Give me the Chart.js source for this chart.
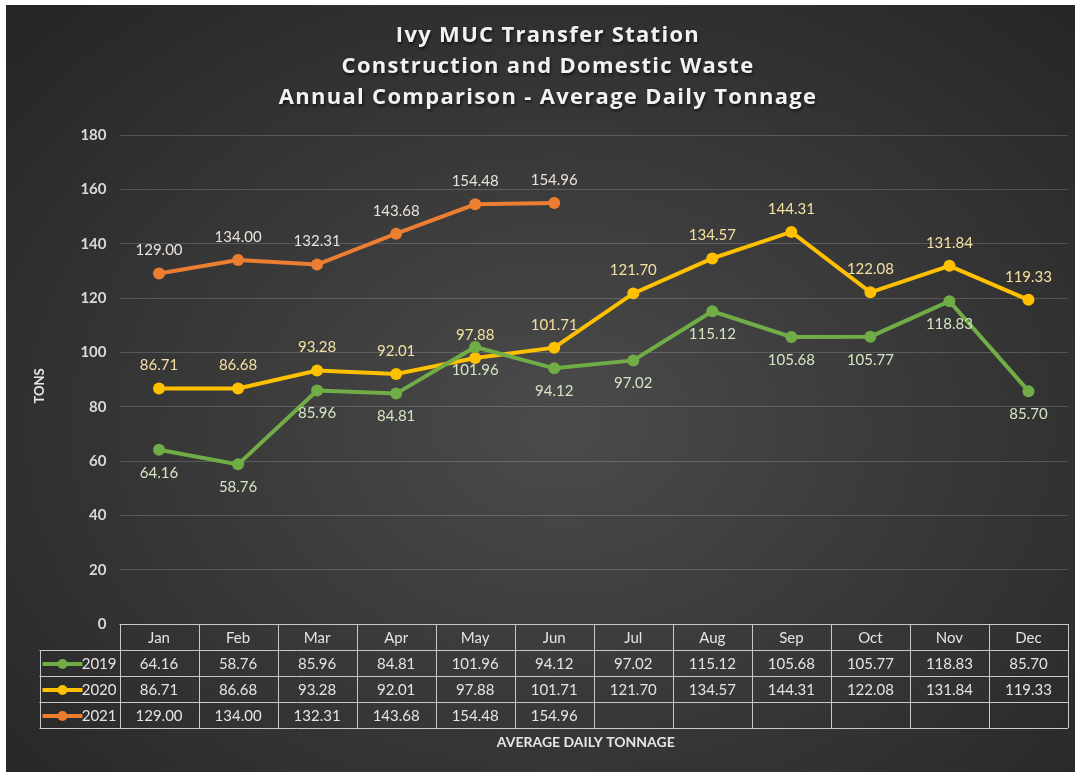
<!DOCTYPE html>
<html>
<head>
<meta charset="utf-8">
<script src="https://cdn.jsdelivr.net/npm/chart.js@4.4.0/dist/chart.umd.min.js"></script>
<style>
  html, body { margin: 0; padding: 0; background: #ffffff; }
  #panel {
    position: absolute; left: 6px; top: 5px; width: 1069px; height: 767px;
    background: radial-gradient(ellipse 70% 75% at 52% 55%, #4b4b4b 0%, #3a3a3a 45%, #262626 100%);
  }
</style>
</head>
<body>
<div id="panel"><canvas id="myChart"></canvas></div>
<script>
// chart values
var months = ['Jan', 'Feb', 'Mar', 'Apr', 'May', 'Jun', 'Jul', 'Aug', 'Sep', 'Oct', 'Nov', 'Dec'];
var years = ['2019', '2020', '2021'];
var tons2019 = [64.16, 58.76, 85.96, 84.81, 101.96, 94.12, 97.02, 115.12, 105.68, 105.77, 118.83, 85.70];
var tons2020 = [86.71, 86.68, 93.28, 92.01, 97.88, 101.71, 121.70, 134.57, 144.31, 122.08, 131.84, 119.33];
var tons2021 = [129.00, 134.00, 132.31, 143.68, 154.48, 154.96, null, null, null, null, null, null];
var titleLines = ['Ivy MUC Transfer Station', 'Construction and Domestic Waste', 'Annual Comparison - Average Daily Tonnage'];

var lineColors = ['#70ad47', '#ffc000', '#ed7d31'];
var labelColors = ['#d4e6c3', '#f4e0a2', '#e9e2dc'];
var labelBelow = [true, false, false];

// title, data labels, table and axis names
var extras = {
  id: 'extras',
  afterDatasetsDraw: function(chart) {
    var ctx = chart.ctx;
    ctx.save();
    ctx.font = '15px Lato';
    ctx.textAlign = 'center';
    ctx.textBaseline = 'middle';
    chart.data.datasets.forEach(function(ds, di) {
      var meta = chart.getDatasetMeta(di);
      meta.data.forEach(function(pt, i) {
        if (ds.data[i] == null) return;
        ctx.fillStyle = labelColors[di];
        var dy = labelBelow[di] ? 23 : -23;
        ctx.fillText(ds.data[i].toFixed(2), pt.x, pt.y + dy);
      });
    });
    ctx.restore();
  },
  afterDraw: function(chart) {
    var ctx = chart.ctx;
    var x = chart.scales.x;
    var area = chart.chartArea;
    var band = x.getPixelForValue(1) - x.getPixelForValue(0);
    var left = area.left, right = area.right;
    var rowH = 26;
    var top = area.bottom;
    var legendW = 80;
    ctx.save();

    // title
    ctx.shadowColor = 'rgba(0,0,0,0.6)';
    ctx.shadowOffsetX = 1;
    ctx.shadowOffsetY = 2;
    ctx.shadowBlur = 3;
    ctx.fillStyle = '#f2f2f2';
    ctx.font = 'bold 22px "Open Sans"';
    ctx.letterSpacing = '1.3px';
    ctx.textAlign = 'center';
    ctx.textBaseline = 'middle';
    titleLines.forEach(function(t, i) {
      ctx.fillText(t, 542, 31 + i * 31);
    });
    ctx.letterSpacing = '0px';
    ctx.shadowColor = 'transparent';

    // y axis name
    ctx.save();
    ctx.translate(34, 381);
    ctx.rotate(-Math.PI / 2);
    ctx.font = 'bold 13px Lato';
    ctx.fillStyle = '#e6e6e6';
    ctx.fillText('TONS', 0, 0);
    ctx.restore();

    // table grid
    ctx.strokeStyle = '#c8c8c8';
    ctx.lineWidth = 1;
    ctx.beginPath();
    for (var r = 0; r <= 4; r++) {
      var yy = Math.round(top + r * rowH) + 0.5;
      ctx.moveTo(r === 0 ? left : left - legendW, yy);
      ctx.lineTo(right, yy);
    }
    for (var c = 0; c <= 12; c++) {
      var xx = Math.round(left + c * band) + 0.5;
      ctx.moveTo(xx, top);
      ctx.lineTo(xx, top + 4 * rowH);
    }
    ctx.moveTo(Math.round(left - legendW) + 0.5, top + rowH);
    ctx.lineTo(Math.round(left - legendW) + 0.5, top + 4 * rowH);
    ctx.stroke();

    // table text
    ctx.font = '15px Lato';
    ctx.fillStyle = '#e4e4e4';
    months.forEach(function(m, i) {
      ctx.fillText(m, x.getPixelForValue(i), top + rowH / 2 + 1);
    });
    chart.data.datasets.forEach(function(ds, di) {
      var cy = top + (di + 1.5) * rowH + 1;
      ds.data.forEach(function(v, i) {
        if (v == null) return;
        ctx.fillText(v.toFixed(2), x.getPixelForValue(i), cy);
      });
      // legend key
      var lx = left - legendW + 3;
      ctx.strokeStyle = lineColors[di];
      ctx.lineWidth = 4;
      ctx.beginPath();
      ctx.moveTo(lx, cy);
      ctx.lineTo(lx + 40, cy);
      ctx.stroke();
      ctx.fillStyle = lineColors[di];
      ctx.beginPath();
      ctx.arc(lx + 20, cy, 5, 0, Math.PI * 2);
      ctx.fill();
      ctx.fillStyle = '#e4e4e4';
      ctx.textAlign = 'right';
      ctx.fillText(years[di], left - 3, cy);
      ctx.textAlign = 'center';
    });

    // x axis name
    ctx.font = 'bold 14px Lato';
    ctx.fillStyle = '#e6e6e6';
    ctx.fillText('AVERAGE DAILY TONNAGE', (left + right) / 2 - 8, top + 4 * rowH + 14);
    ctx.restore();
  }
};

var ctx = document.getElementById('myChart').getContext('2d');
var myChart = new Chart(ctx, {
  type: 'line',
  data: {
    labels: months,
    datasets: [tons2019, tons2020, tons2021].map(function(d, i) {
      return {
        label: years[i],
        data: d,
        borderColor: lineColors[i],
        backgroundColor: lineColors[i],
        pointBackgroundColor: lineColors[i],
        pointBorderWidth: 0,
        pointRadius: 6,
        borderWidth: 4,
        tension: 0,
        spanGaps: false
      };
    })
  },
  options: {
    responsive: true,
    maintainAspectRatio: false,
    animation: false,
    layout: {
      padding: { top: 130, bottom: 148, left: 0, right: 7 }
    },
    scales: {
      x: {
        display: false,
        offset: true
      },
      y: {
        min: 0,
        max: 180,
        ticks: {
          stepSize: 20,
          padding: 13,
          color: '#d9d9d9',
          font: { family: 'Lato', weight: 'bold', size: 15 }
        },
        grid: {
          color: function(c) { return c.tick.value === 0 ? 'transparent' : 'rgba(255,255,255,0.17)'; },
          drawTicks: false
        },
        border: { display: false },
        afterFit: function(scale) { scale.width = 113.5; }
      }
    },
    plugins: {
      legend: { display: false },
      tooltip: { enabled: false }
    }
  },
  plugins: [extras]
});
</script>
</body>
</html>
